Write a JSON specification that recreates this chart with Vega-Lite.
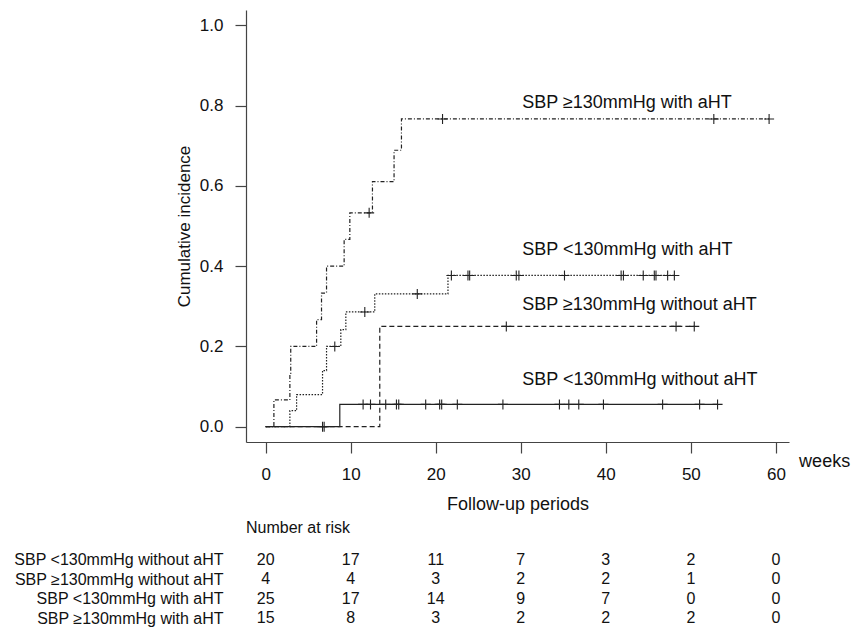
{
  "$schema": "https://vega.github.io/schema/vega-lite/v6.json",
  "padding": {"left": 13, "top": 10, "right": 0, "bottom": 5},
  "config": {
    "view": {"stroke": null},
    "font": "Liberation Sans",
    "axis": {"grid": false, "domainColor": "#444", "tickColor": "#444", "domainWidth": 1.2, "tickWidth": 1.2, "labelColor": "#111", "titleColor": "#111", "titleFontWeight": "normal", "labelFont": "Liberation Sans", "titleFont": "Liberation Sans"},
    "title": {"font": "Liberation Sans", "fontWeight": "normal", "color": "#111"}
  },
  "datasets": {
    "curves": [
      {"group": "SBP <130mmHg without aHT", "week": 0, "incidence": 0},
      {"group": "SBP <130mmHg without aHT", "week": 8.72, "incidence": 0.0556},
      {"group": "SBP <130mmHg without aHT", "week": 53.14, "incidence": 0.0556},
      {"group": "SBP ≥130mmHg without aHT", "week": 0, "incidence": 0},
      {"group": "SBP ≥130mmHg without aHT", "week": 13.42, "incidence": 0.25},
      {"group": "SBP ≥130mmHg without aHT", "week": 50.4, "incidence": 0.25},
      {"group": "SBP <130mmHg with aHT", "week": 0, "incidence": 0},
      {"group": "SBP <130mmHg with aHT", "week": 2.85, "incidence": 0.04},
      {"group": "SBP <130mmHg with aHT", "week": 3.64, "incidence": 0.08},
      {"group": "SBP <130mmHg with aHT", "week": 6.69, "incidence": 0.14},
      {"group": "SBP <130mmHg with aHT", "week": 7.16, "incidence": 0.2},
      {"group": "SBP <130mmHg with aHT", "week": 8.84, "incidence": 0.242},
      {"group": "SBP <130mmHg with aHT", "week": 9.43, "incidence": 0.286},
      {"group": "SBP <130mmHg with aHT", "week": 12.83, "incidence": 0.331},
      {"group": "SBP <130mmHg with aHT", "week": 21.44, "incidence": 0.377},
      {"group": "SBP <130mmHg with aHT", "week": 48.06, "incidence": 0.377},
      {"group": "SBP ≥130mmHg with aHT", "week": 0, "incidence": 0},
      {"group": "SBP ≥130mmHg with aHT", "week": 0.97, "incidence": 0.0667},
      {"group": "SBP ≥130mmHg with aHT", "week": 2.85, "incidence": 0.133},
      {"group": "SBP ≥130mmHg with aHT", "week": 2.95, "incidence": 0.2},
      {"group": "SBP ≥130mmHg with aHT", "week": 5.99, "incidence": 0.267},
      {"group": "SBP ≥130mmHg with aHT", "week": 6.57, "incidence": 0.333},
      {"group": "SBP ≥130mmHg with aHT", "week": 7.16, "incidence": 0.4},
      {"group": "SBP ≥130mmHg with aHT", "week": 9.23, "incidence": 0.467},
      {"group": "SBP ≥130mmHg with aHT", "week": 9.9, "incidence": 0.533},
      {"group": "SBP ≥130mmHg with aHT", "week": 12.56, "incidence": 0.611},
      {"group": "SBP ≥130mmHg with aHT", "week": 15.1, "incidence": 0.689},
      {"group": "SBP ≥130mmHg with aHT", "week": 15.97, "incidence": 0.767},
      {"group": "SBP ≥130mmHg with aHT", "week": 59.2, "incidence": 0.767}
    ],
    "censored": [
      {"group": "SBP <130mmHg without aHT", "week": 6.69, "incidence": 0},
      {"group": "SBP <130mmHg without aHT", "week": 6.88, "incidence": 0},
      {"group": "SBP <130mmHg without aHT", "week": 11.46, "incidence": 0.0556},
      {"group": "SBP <130mmHg without aHT", "week": 12.33, "incidence": 0.0556},
      {"group": "SBP <130mmHg without aHT", "week": 14.12, "incidence": 0.0556},
      {"group": "SBP <130mmHg without aHT", "week": 15.38, "incidence": 0.0556},
      {"group": "SBP <130mmHg without aHT", "week": 15.65, "incidence": 0.0556},
      {"group": "SBP <130mmHg without aHT", "week": 18.82, "incidence": 0.0556},
      {"group": "SBP <130mmHg without aHT", "week": 20.46, "incidence": 0.0556},
      {"group": "SBP <130mmHg without aHT", "week": 20.7, "incidence": 0.0556},
      {"group": "SBP <130mmHg without aHT", "week": 22.54, "incidence": 0.0556},
      {"group": "SBP <130mmHg without aHT", "week": 27.9, "incidence": 0.0556},
      {"group": "SBP <130mmHg without aHT", "week": 34.55, "incidence": 0.0556},
      {"group": "SBP <130mmHg without aHT", "week": 35.65, "incidence": 0.0556},
      {"group": "SBP <130mmHg without aHT", "week": 36.82, "incidence": 0.0556},
      {"group": "SBP <130mmHg without aHT", "week": 39.72, "incidence": 0.0556},
      {"group": "SBP <130mmHg without aHT", "week": 46.68, "incidence": 0.0556},
      {"group": "SBP <130mmHg without aHT", "week": 51.03, "incidence": 0.0556},
      {"group": "SBP <130mmHg without aHT", "week": 53.14, "incidence": 0.0556},
      {"group": "SBP ≥130mmHg without aHT", "week": 28.3, "incidence": 0.25},
      {"group": "SBP ≥130mmHg without aHT", "week": 48.26, "incidence": 0.25},
      {"group": "SBP ≥130mmHg without aHT", "week": 50.4, "incidence": 0.25},
      {"group": "SBP <130mmHg with aHT", "week": 8.13, "incidence": 0.2},
      {"group": "SBP <130mmHg with aHT", "week": 11.66, "incidence": 0.286},
      {"group": "SBP <130mmHg with aHT", "week": 17.83, "incidence": 0.331},
      {"group": "SBP <130mmHg with aHT", "week": 21.84, "incidence": 0.377},
      {"group": "SBP <130mmHg with aHT", "week": 23.79, "incidence": 0.377},
      {"group": "SBP <130mmHg with aHT", "week": 23.99, "incidence": 0.377},
      {"group": "SBP <130mmHg with aHT", "week": 29.47, "incidence": 0.377},
      {"group": "SBP <130mmHg with aHT", "week": 29.78, "incidence": 0.377},
      {"group": "SBP <130mmHg with aHT", "week": 35.14, "incidence": 0.377},
      {"group": "SBP <130mmHg with aHT", "week": 41.8, "incidence": 0.377},
      {"group": "SBP <130mmHg with aHT", "week": 42.07, "incidence": 0.377},
      {"group": "SBP <130mmHg with aHT", "week": 44.4, "incidence": 0.377},
      {"group": "SBP <130mmHg with aHT", "week": 45.7, "incidence": 0.377},
      {"group": "SBP <130mmHg with aHT", "week": 45.9, "incidence": 0.377},
      {"group": "SBP <130mmHg with aHT", "week": 47.27, "incidence": 0.377},
      {"group": "SBP <130mmHg with aHT", "week": 48.06, "incidence": 0.377},
      {"group": "SBP ≥130mmHg with aHT", "week": 12.17, "incidence": 0.533},
      {"group": "SBP ≥130mmHg with aHT", "week": 20.8, "incidence": 0.767},
      {"group": "SBP ≥130mmHg with aHT", "week": 52.7, "incidence": 0.767},
      {"group": "SBP ≥130mmHg with aHT", "week": 59.2, "incidence": 0.767}
    ],
    "risk": [
      {"group": "SBP <130mmHg without aHT", "week": 0, "n": 20},
      {"group": "SBP <130mmHg without aHT", "week": 10, "n": 17},
      {"group": "SBP <130mmHg without aHT", "week": 20, "n": 11},
      {"group": "SBP <130mmHg without aHT", "week": 30, "n": 7},
      {"group": "SBP <130mmHg without aHT", "week": 40, "n": 3},
      {"group": "SBP <130mmHg without aHT", "week": 50, "n": 2},
      {"group": "SBP <130mmHg without aHT", "week": 60, "n": 0},
      {"group": "SBP ≥130mmHg without aHT", "week": 0, "n": 4},
      {"group": "SBP ≥130mmHg without aHT", "week": 10, "n": 4},
      {"group": "SBP ≥130mmHg without aHT", "week": 20, "n": 3},
      {"group": "SBP ≥130mmHg without aHT", "week": 30, "n": 2},
      {"group": "SBP ≥130mmHg without aHT", "week": 40, "n": 2},
      {"group": "SBP ≥130mmHg without aHT", "week": 50, "n": 1},
      {"group": "SBP ≥130mmHg without aHT", "week": 60, "n": 0},
      {"group": "SBP <130mmHg with aHT", "week": 0, "n": 25},
      {"group": "SBP <130mmHg with aHT", "week": 10, "n": 17},
      {"group": "SBP <130mmHg with aHT", "week": 20, "n": 14},
      {"group": "SBP <130mmHg with aHT", "week": 30, "n": 9},
      {"group": "SBP <130mmHg with aHT", "week": 40, "n": 7},
      {"group": "SBP <130mmHg with aHT", "week": 50, "n": 0},
      {"group": "SBP <130mmHg with aHT", "week": 60, "n": 0},
      {"group": "SBP ≥130mmHg with aHT", "week": 0, "n": 15},
      {"group": "SBP ≥130mmHg with aHT", "week": 10, "n": 8},
      {"group": "SBP ≥130mmHg with aHT", "week": 20, "n": 3},
      {"group": "SBP ≥130mmHg with aHT", "week": 30, "n": 2},
      {"group": "SBP ≥130mmHg with aHT", "week": 40, "n": 2},
      {"group": "SBP ≥130mmHg with aHT", "week": 50, "n": 2},
      {"group": "SBP ≥130mmHg with aHT", "week": 60, "n": 0}
    ]
  },
  "vconcat": [
    {
      "width": 543,
      "height": 432,
      "layer": [
        {
          "data": {"name": "curves"},
          "mark": {"type": "line", "interpolate": "step-after", "strokeWidth": 1.2, "color": "#222"},
          "encoding": {
            "x": {"field": "week", "type": "quantitative",
              "scale": {"domain": [-2.31, 61.54], "nice": false, "zero": false},
              "axis": {"values": [0, 10, 20, 30, 40, 50, 60], "tickSize": 11, "labelPadding": 13, "labelFontSize": 17, "labelFlush": false, "labelOverlap": false, "title": "Follow-up periods", "titleFontSize": 18, "titlePadding": 13}},
            "y": {"field": "incidence", "type": "quantitative",
              "scale": {"domain": [-0.0381, 1.0386], "nice": false, "zero": false},
              "axis": {"values": [0, 0.2, 0.4, 0.6, 0.8, 1.0], "format": ".1f", "tickSize": 11, "labelPadding": 12, "labelFontSize": 17, "labelFlush": false, "labelOverlap": false, "title": "Cumulative incidence", "titleFontSize": 17, "titlePadding": 6}},
            "detail": {"field": "group"},
            "strokeDash": {"field": "group", "type": "nominal",
              "scale": {"domain": ["SBP <130mmHg without aHT", "SBP ≥130mmHg without aHT", "SBP <130mmHg with aHT", "SBP ≥130mmHg with aHT"],
                        "range": [[1, 0], [5, 3], [1.5, 1.5], [4, 2, 1, 2]]},
              "legend": null}
          }
        },
        {
          "data": {"name": "censored"},
          "mark": {"type": "point", "shape": "M-1,0H1M0,-1V1", "size": 100, "filled": false, "stroke": "#222", "strokeWidth": 1.1, "opacity": 1},
          "encoding": {
            "x": {"field": "week", "type": "quantitative"},
            "y": {"field": "incidence", "type": "quantitative"}
          }
        },
        {
          "data": {"values": [{"label": "SBP ≥130mmHg with aHT"}]},
          "mark": {"type": "text", "align": "left", "baseline": "middle", "fontSize": 18, "color": "#111"},
          "encoding": {"x": {"datum": 30.17}, "y": {"datum": 0.806}, "text": {"field": "label"}}
        },
        {
          "data": {"values": [{"label": "SBP <130mmHg with aHT"}]},
          "mark": {"type": "text", "align": "left", "baseline": "middle", "fontSize": 18, "color": "#111"},
          "encoding": {"x": {"datum": 30.17}, "y": {"datum": 0.441}, "text": {"field": "label"}}
        },
        {
          "data": {"values": [{"label": "SBP ≥130mmHg without aHT"}]},
          "mark": {"type": "text", "align": "left", "baseline": "middle", "fontSize": 18, "color": "#111"},
          "encoding": {"x": {"datum": 30.17}, "y": {"datum": 0.304}, "text": {"field": "label"}}
        },
        {
          "data": {"values": [{"label": "SBP <130mmHg without aHT"}]},
          "mark": {"type": "text", "align": "left", "baseline": "middle", "fontSize": 18, "color": "#111"},
          "encoding": {"x": {"datum": 30.17}, "y": {"datum": 0.117}, "text": {"field": "label"}}
        },
        {
          "data": {"values": [{"label": "weeks"}]},
          "mark": {"type": "text", "align": "left", "baseline": "middle", "fontSize": 18, "color": "#111"},
          "encoding": {"x": {"datum": 62.73}, "y": {"datum": -0.0889}, "text": {"field": "label"}}
        }
      ]
    },
    {
      "width": 543,
      "height": 78,
      "title": {"text": "Number at risk", "anchor": "start", "frame": "group", "fontSize": 16, "offset": 14},
      "data": {"name": "risk"},
      "mark": {"type": "text", "fontSize": 16, "color": "#111", "baseline": "middle"},
      "encoding": {
        "x": {"field": "week", "type": "quantitative", "scale": {"domain": [-2.31, 61.54], "nice": false, "zero": false}, "axis": null},
        "y": {"field": "group", "type": "nominal",
          "sort": ["SBP <130mmHg without aHT", "SBP ≥130mmHg without aHT", "SBP <130mmHg with aHT", "SBP ≥130mmHg with aHT"],
          "scale": {"paddingInner": 0, "paddingOuter": 0},
          "axis": {"title": null, "domain": false, "ticks": false, "labelFontSize": 16, "labelPadding": 23, "labelLimit": 0}},
        "text": {"field": "n", "type": "quantitative"}
      }
    }
  ],
  "spacing": 7
}
